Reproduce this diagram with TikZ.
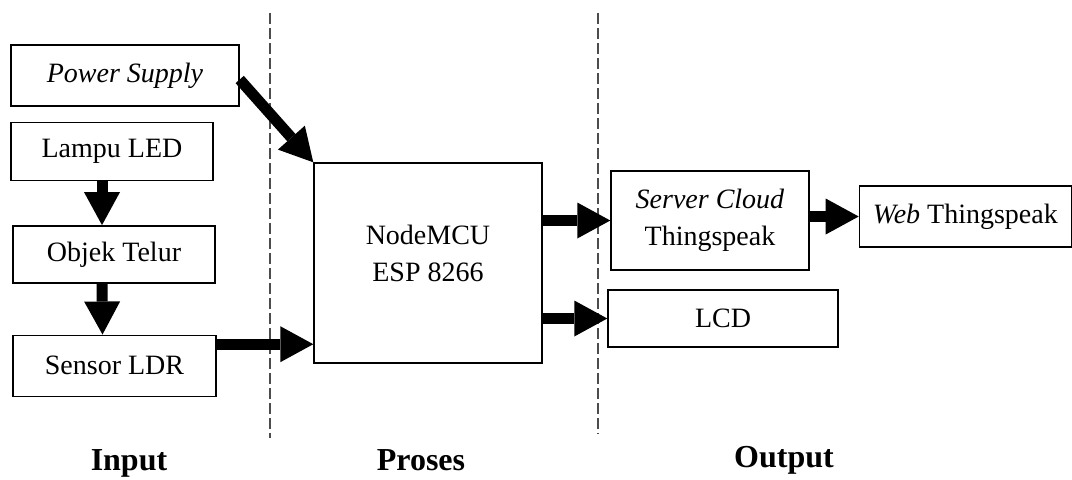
\documentclass[tikz,border=0pt]{standalone}
\usepackage{fontspec}
\setmainfont{Liberation Serif}
\usepackage{xcolor}
\usepackage{tikz}
\usetikzlibrary{arrows.meta, positioning}

\begin{document}
\begin{tikzpicture}[x=0.5pt, y=-0.5pt,
	blok/.style={draw, line width=0.7pt, inner sep=2pt, align=center, font=\fontsize{14}{18.5}\selectfont},
	flow/.style={line width=5.5pt, -{Triangle[width=18pt, length=16.5pt, line width=0pt]}},
	batas/.style={draw=black!70, line width=0.6pt, dash pattern=on 5.5pt off 2pt},
	judul/.style={anchor=base, font=\fontsize{16}{18}\selectfont\bfseries}]

		\useasboundingbox (0,0) rectangle (1072,479);

        \node[blok, minimum width=114pt, minimum height=30.5pt] (ps) at (125,75.5) {\textit{Power Supply}};
        \node[blok, minimum width=101pt, minimum height=29pt] (led) [below=7.5pt of ps.south west, anchor=north west] {Lampu LED};
		\node[blok, minimum width=101pt, minimum height=28.5pt] (telur) [below=22pt of led.south west, anchor=north west, xshift=1pt] {Objek Telur};
		\node[blok, minimum width=101.5pt, minimum height=30.5pt] (ldr) [below=25.5pt of telur.south west, anchor=north west] {Sensor LDR};

		\node[blok, minimum width=114pt, minimum height=100pt, text depth=10pt] (mcu) at (428,263) {NodeMCU\\ESP 8266};

		\node[blok, minimum width=99pt, minimum height=49.5pt] (cloud) at (710,220.5) {\textit{Server Cloud}\\Thingspeak};
		\node[blok, minimum width=106pt, minimum height=30.5pt] (web) [right=24.5pt of cloud, yshift=2pt] {\textit{Web} Thingspeak};
		\node[blok, minimum width=115pt, minimum height=28.5pt] (lcd) at (723,318.5) {LCD};

		% garis pemisah
		\draw[batas] (270,13) -- (270,438);
		\draw[batas] (598,13) -- (598,434);

		\node[judul] (input) at (129,470) {Input};
		\node[judul] (proses) at (421,470) {Proses};
		\node[judul] (output) at (784,467) {Output};

		\path[flow]
        ([yshift=-2pt]ps.east) edge (mcu.north west)
        ([xshift=-5pt]led.south) edge ([xshift=-6pt]telur.north)
		([xshift=-6pt]telur.south) edge ([xshift=-6pt]ldr.north)
		([yshift=10.75pt]ldr.east) edge ([yshift=10.75pt]ldr.east -| mcu.west)
		(cloud.west -| mcu.east) edge (cloud.west)
		(lcd.west -| mcu.east) edge (lcd.west)
		(web.west -| cloud.east) edge (web.west);
    \end{tikzpicture}
\end{document}
